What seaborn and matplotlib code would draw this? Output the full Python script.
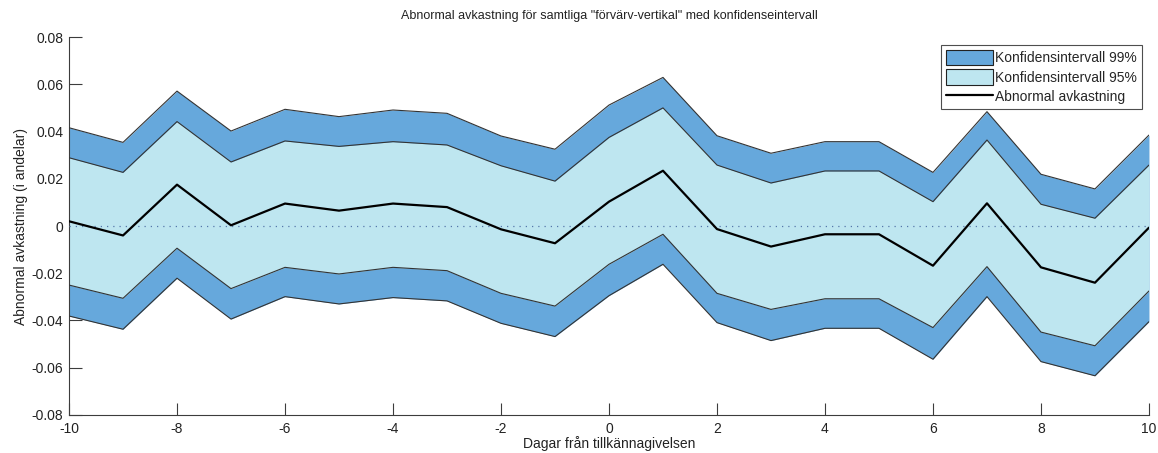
import matplotlib
matplotlib.use("Agg")
import matplotlib.pyplot as plt
import numpy as np
import pandas as pd
import seaborn as sns
from matplotlib.patches import Patch
from matplotlib.lines import Line2D

# Event window (days relative to the announcement)
days = list(range(-10, 11))

# Average abnormal return per day
abnormal = [0.002, -0.004, 0.0175, 0.0003, 0.0095, 0.0065, 0.0095, 0.008, -0.0014, -0.0073,
            0.0103, 0.0234, -0.0013, -0.0087, -0.0035, -0.0035, -0.0168, 0.0096, -0.0175, -0.024,
            -0.0007]

# 95% confidence interval bounds
ci95_upper = [0.0289, 0.0227, 0.0442, 0.0271, 0.036, 0.0337, 0.0357, 0.0343, 0.0255, 0.019,
              0.0375, 0.050, 0.0258, 0.0182, 0.0233, 0.0233, 0.0103, 0.0364, 0.0092, 0.0033,
              0.0258]
ci95_lower = [-0.025, -0.0306, -0.0094, -0.0265, -0.0175, -0.0203, -0.0175, -0.0189, -0.0285, -0.0339,
              -0.0162, -0.0035, -0.0285, -0.0353, -0.0308, -0.0308, -0.043, -0.0172, -0.0449, -0.0507,
              -0.0275]

# 99% confidence interval bounds
ci99_upper = [0.0416, 0.0354, 0.0571, 0.0402, 0.0494, 0.0463, 0.0491, 0.0477, 0.0381, 0.0325,
              0.0512, 0.0629, 0.0382, 0.0308, 0.0357, 0.0357, 0.0227, 0.0484, 0.0219, 0.0157,
              0.0385]
ci99_lower = [-0.0381, -0.0437, -0.0221, -0.0394, -0.0299, -0.033, -0.0303, -0.0317, -0.0412, -0.0468,
              -0.0295, -0.0162, -0.0409, -0.0485, -0.0433, -0.0433, -0.0564, -0.0299, -0.0574, -0.0634,
              -0.0405]

title = 'Abnormal avkastning för samtliga "förvärv-vertikal" med konfidenseintervall'
xlabel = "Dagar från tillkännagivelsen"
ylabel = "Abnormal avkastning (i andelar)"
legend_labels = ["Konfidensintervall 99%", "Konfidensintervall 95%", "Abnormal avkastning"]

df = pd.DataFrame({"dag": days, "ar": abnormal,
                   "u95": ci95_upper, "l95": ci95_lower,
                   "u99": ci99_upper, "l99": ci99_lower})

sns.set_style("ticks")
plt.rcParams["font.family"] = ["Liberation Sans", "DejaVu Sans"]
plt.rcParams["axes.unicode_minus"] = False

c99 = "#66a8dc"
c95 = "#bee6f0"
edge = "#333333"

fig = plt.figure(figsize=(11.58, 4.53), dpi=100)
ax = fig.add_axes([0.0596, 0.0839, 0.9326, 0.8344])

# Outer (99%) band, then the inner (95%) band painted over it
ax.fill_between(df["dag"], df["l99"], df["u99"], color=c99, linewidth=0, zorder=1)
ax.fill_between(df["dag"], df["l95"], df["u95"], color=c95, linewidth=0, zorder=2)
for col in ["u99", "l99", "u95", "l95"]:
    ax.plot(df["dag"], df[col], color=edge, linewidth=0.8, zorder=3)

# Zero reference line
ax.axhline(0, color="#5577aa", linestyle=(0, (1, 4)), linewidth=0.9, zorder=3)

sns.lineplot(data=df, x="dag", y="ar", ax=ax, color="black", linewidth=1.6, zorder=4)

ax.set_xlim(-10, 10)
ax.set_ylim(-0.08, 0.08)
ax.set_xticks(range(-10, 11, 2))
ax.set_yticks(np.arange(-0.08, 0.081, 0.02))
ax.set_yticklabels(["-0.08", "-0.06", "-0.04", "-0.02", "0", "0.02", "0.04", "0.06", "0.08"])

for side in ["top", "right"]:
    ax.spines[side].set_visible(False)
for side in ["left", "bottom"]:
    ax.spines[side].set_color("#3c3c3c")
    ax.spines[side].set_linewidth(0.8)
ax.tick_params(direction="in", length=9, width=0.8, color="#3c3c3c",
               labelsize=10, labelcolor="#222222")
ax.tick_params(axis="x", pad=5)
ax.tick_params(axis="y", pad=4)

ax.set_title(title, fontsize=9, color="#222222", pad=13)
ax.set_xlabel(xlabel, fontsize=10, color="#222222", labelpad=0)
ax.set_ylabel(ylabel, fontsize=10, color="#222222", labelpad=3)

handles = [Patch(facecolor=c99, edgecolor="#222222", linewidth=0.8),
           Patch(facecolor=c95, edgecolor="#222222", linewidth=0.8),
           Line2D([0], [0], color="black", linewidth=1.6)]
leg = ax.legend(handles, legend_labels, loc="upper right", bbox_to_anchor=(0.9935, 0.9785),
                fontsize=10, frameon=True, fancybox=False, handlelength=3.4,
                handleheight=1.3, handletextpad=0.15, borderpad=0.35, labelspacing=0.3,
                borderaxespad=0)
leg.get_frame().set_edgecolor("#222222")
leg.get_frame().set_linewidth(0.8)

fig.savefig("out.png", dpi=100)
